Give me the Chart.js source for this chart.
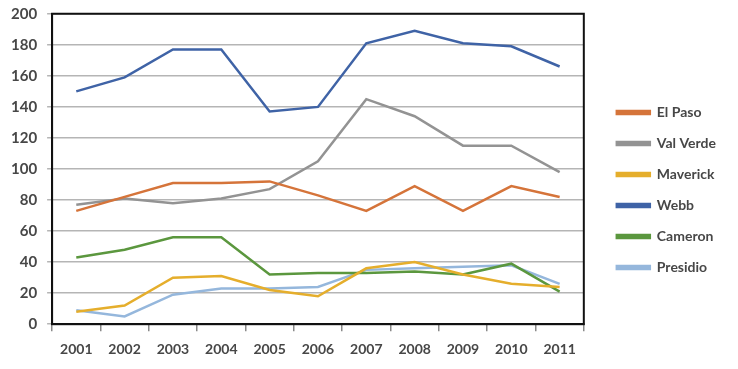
<!DOCTYPE html>
<html>
<head>
<meta charset="utf-8">
<script src="https://cdn.jsdelivr.net/npm/chart.js@4/dist/chart.umd.min.js"></script>
<style>
    html, body { margin: 0; padding: 0; background: #ffffff; }
    #wrap { width: 738px; height: 369px; position: relative; }
</style>
</head>
<body>
<div id="wrap"><canvas id="chart"></canvas></div>
<script>
const years = ['2001', '2002', '2003', '2004', '2005', '2006', '2007', '2008', '2009', '2010', '2011'];

const elPaso = [73, 82, 91, 91, 92, 83, 73, 89, 73, 89, 82];
const valVerde = [77, 81, 78, 81, 87, 105, 145, 134, 115, 115, 98];
const maverick = [8, 12, 30, 31, 22, 18, 36, 40, 32, 26, 24];
const webb = [150, 159, 177, 177, 137, 140, 181, 189, 181, 179, 166];
const cameron = [43, 48, 56, 56, 32, 33, 33, 34, 32, 39, 21];
const presidio = [9, 5, 19, 23, 23, 24, 35, 36, 37, 38, 26];

const seriesNames = ['El Paso', 'Val Verde', 'Maverick', 'Webb', 'Cameron', 'Presidio'];
const seriesValues = [elPaso, valVerde, maverick, webb, cameron, presidio];
const seriesColors = ['#d5743a', '#939393', '#e5ae2c', '#3f63a6', '#5b973e', '#95b7dc'];

const yTicks = { min: 0, max: 200, step: 20 };

const textColor = '#474747';

// black frame around the plot area
const frame = {
    id: 'frame',
    afterDraw(chart) {
        const { ctx, chartArea: a } = chart;
        ctx.save();
        ctx.strokeStyle = '#111111';
        ctx.lineWidth = 2;
        ctx.strokeRect(a.left, a.top, a.right - a.left, a.bottom - a.top);
        ctx.restore();
    },
};

// push the legend a bit away from the plot and down
const legendShift = {
    id: 'legendShift',
    afterLayout(chart) {
        const lg = chart.legend;
        if (!lg) {
            return;
        }
        lg.left += 16;
        lg.right += 16;
        lg.top += 6;
        lg.bottom += 6;
    },
};

new Chart(document.getElementById('chart'), {
    type: 'line',
    data: {
        labels: years,
        datasets: seriesNames.map((name, i) => ({
            label: name,
            data: seriesValues[i],
            borderColor: seriesColors[i],
            backgroundColor: seriesColors[i],
            borderWidth: 2.5,
            pointRadius: 0,
            tension: 0,
        })),
    },
    options: {
        responsive: true,
        maintainAspectRatio: false,
        animation: false,
        layout: {
            padding: { top: 0, right: 28, left: 1, bottom: 1 },
        },
        plugins: {
            tooltip: { enabled: false },
            legend: {
                position: 'right',
                labels: {
                    color: textColor,
                    boxWidth: 33,
                    boxHeight: 3,
                    padding: 17,
                    font: { family: 'Lato', size: 14, weight: 'bold' },
                },
            },
        },
        scales: {
            x: {
                offset: true,
                grid: {
                    offset: true,
                    drawOnChartArea: false,
                    drawTicks: true,
                    tickLength: 7,
                    color: '#8a8a8a',
                    lineWidth: 1.5,
                },
                border: { color: '#111111', width: 2 },
                ticks: {
                    color: textColor,
                    padding: 10,
                    font: { family: 'Lato', size: 14, weight: 'bold' },
                },
            },
            y: {
                min: yTicks.min,
                max: yTicks.max,
                grid: {
                    color: '#b5b5b5',
                    lineWidth: 1.5,
                    drawTicks: true,
                    tickLength: 5,
                },
                border: { color: '#111111', width: 2 },
                ticks: {
                    stepSize: yTicks.step,
                    color: textColor,
                    padding: 10,
                    font: { family: 'Lato', size: 15, weight: 'bold', lineHeight: 0.5 },
                },
            },
        },
    },
    plugins: [frame, legendShift],
});
</script>
</body>
</html>
